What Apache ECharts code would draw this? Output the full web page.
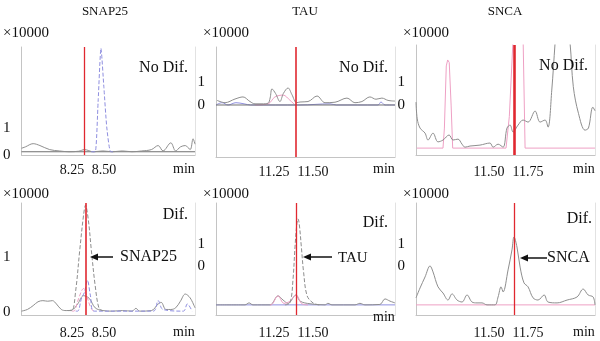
<!DOCTYPE html>
<html><head><meta charset="utf-8">
<script src="https://cdn.jsdelivr.net/npm/echarts@6/dist/echarts.min.js"></script>
<style>html,body{margin:0;padding:0;background:#fff}#c{width:600px;height:341px}</style>
</head><body><div id="c"></div>
<script>
// ---------- labels ----------
const panelTitles = ['SNAP25', 'TAU', 'SNCA'];
const rowNotes = ['No Dif.', 'Dif.'];
const arrowLabels = ['SNAP25', 'TAU', 'SNCA'];
const yUnitLabel = '×10000';
const xUnitLabel = 'min';
const xTicksSnap = [8.25, 8.50];
const xTicksTau = [11.25, 11.50];
const xTicksSnca = [11.50, 11.75];
const yTicks = [0, 1];
// retention-time marker (red line) per panel: A B C / D E F
const markerTimes = [8.348, 11.391, 11.660, 8.356, 11.391, 11.660];

// ---------- Panel A : SNAP25, No Dif. ----------
const snapNoDifTrace = [[7.856,0.25],[7.886,0.3],[7.947,0.42],[8.000,0.35],[8.076,0.2],[8.152,0.15],[8.227,0.12],[8.303,0.14],[8.348,0.2],[8.417,0.12],[8.492,0.15],[8.568,0.12],[8.644,0.15],[8.720,0.12],[8.795,0.15],[8.871,0.2],[8.924,0.35],[8.962,0.15],[9.023,0.45],[9.061,0.15],[9.098,0.3],[9.136,0.35],[9.174,0.2],[9.197,0.6],[9.212,0.4]];
const snapNoDifBase = [[7.856,0.12],[9.212,0.12]];
const snapNoDifPeak = [[8.40,0.12],[8.432,0.12],[8.455,2.0],[8.477,3.95],[8.500,2.5],[8.523,1.0],[8.553,0.12],[8.58,0.12]];

// ---------- Panel B : TAU, No Dif. ----------
const tauNoDifTrace = [[10.885,0.2],[10.936,0.1],[11.0,0.26],[11.051,0.35],[11.096,0.15],[11.128,0.05],[11.173,0.05],[11.212,0.08],[11.225,0.3],[11.237,0.7],[11.26,0.5],[11.288,0.15],[11.31,0.5],[11.34,0.74],[11.365,0.45],[11.395,0.1],[11.417,0.13],[11.468,0.15],[11.526,0.39],[11.577,0.1],[11.641,0.12],[11.718,0.3],[11.769,0.1],[11.814,0.15],[11.865,0.35],[11.904,0.25],[11.942,0.3],[11.981,0.2],[12.026,0.17]];
const tauNoDifPink = [[11.128,0],[11.212,0.05],[11.256,0.35],[11.308,0.43],[11.353,0.2],[11.385,0]];
const tauNoDifBlue = [[10.878,0],[10.917,0.1],[10.955,0],[11.006,0.1],[11.058,0.05],[11.1,0],[11.417,0],[11.609,0.05],[11.65,0],[11.917,0],[11.936,0.13],[11.962,0],[12.026,0]];
const tauNoDifZero = [[10.878,0],[12.026,0]];

// ---------- Panel C : SNCA, No Dif. ----------
const sncaNoDifTrace = [[11.032,0.13],[11.04,-0.6],[11.058,-1.0],[11.090,-1.22],[11.109,-1.52],[11.141,-1.22],[11.173,-1.6],[11.205,-1.52],[11.244,-1.3],[11.269,-1.52],[11.301,-1.48],[11.327,-1.7],[11.346,-1.83],[11.378,-1.78],[11.442,-1.74],[11.506,-1.65],[11.526,-1.83],[11.558,-1.7],[11.590,-1.83],[11.615,-1.0],[11.635,-0.87],[11.654,-1.17],[11.686,-0.87],[11.718,-0.65],[11.750,-0.74],[11.795,-0.26],[11.827,-0.74],[11.859,-0.65],[11.878,-0.96],[11.902,0.65],[11.923,2.68],[11.94,4.2],[11.99,4.2],[12.019,2.7],[12.04,0.8],[12.073,-0.36],[12.115,-1.09],[12.137,-1.0],[12.165,-0.09],[12.179,-0.25]];
const sncaNoDifPink = [[11.038,-1.87],[11.205,-1.87],[11.214,-1.0],[11.226,1.7],[11.235,1.96],[11.245,1.85],[11.257,0],[11.267,-1.87],[11.609,-1.87],[11.63,-0.5],[11.655,3],[11.66,5],[11.71,5],[11.718,3],[11.731,-1.87],[12.179,-1.87]];

// ---------- Panel D : SNAP25, Dif. ----------
const snapDifPeak = [[8.22,0.03],[8.25,0.03],[8.280,0.4],[8.311,1.12],[8.341,1.76],[8.356,1.94],[8.379,1.66],[8.402,1.12],[8.432,0.48],[8.462,0.07],[8.492,0.03]];
const snapDifTrace = [[7.856,0.02],[7.902,0.05],[7.947,0.12],[7.985,0.19],[8.023,0.21],[8.061,0.2],[8.098,0.21],[8.129,0.15],[8.167,0.05],[8.205,0.03],[8.25,0.04],[8.295,0.15],[8.341,0.3],[8.386,0.25],[8.432,0.08],[8.492,0.03],[8.568,0.02],[8.644,0.03],[8.720,0.02],[8.750,0.07],[8.780,0.02],[8.871,0.03],[8.924,0.15],[8.947,0.18],[8.985,0.05],[9.023,0.05],[9.061,0.08],[9.098,0.2],[9.136,0.33],[9.174,0.26],[9.212,0.08]];
const snapDifPink = [[8.25,0.02],[8.265,0.02],[8.295,0.2],[8.326,0.39],[8.341,0.43],[8.364,0.31],[8.394,0.1],[8.417,0.02]];
const snapDifBlue = [[8.28,0.02],[8.295,0.02],[8.326,0.26],[8.348,0.36],[8.371,0.58],[8.394,0.31],[8.424,0.02],[8.886,0.02],[8.924,0.21],[8.962,0.05],[9.121,0.02],[9.152,0.15],[9.189,0.02]];

// ---------- Panel E : TAU, Dif. ----------
const tauDifPeak = [[11.32,-1.77],[11.353,-1.68],[11.372,-0.6],[11.385,0.9],[11.397,1.95],[11.404,2.14],[11.412,1.9],[11.425,0.9],[11.44,-0.3],[11.462,-1.35],[11.5,-1.68],[11.54,-1.77]];
const tauDifTrace = [[10.878,-1.77],[11.064,-1.77],[11.090,-1.68],[11.115,-1.77],[11.224,-1.77],[11.276,-1.36],[11.308,-1.55],[11.340,-1.7],[11.391,-1.32],[11.417,-1.6],[11.481,-1.72],[11.577,-1.77],[11.596,-1.7],[11.622,-1.77],[11.769,-1.77],[11.801,-1.7],[11.833,-1.77],[11.929,-1.75],[11.962,-1.5],[11.994,-1.6],[12.026,-1.68]];
const tauDifPink = [[11.224,-1.77],[11.237,-1.75],[11.276,-1.36],[11.314,-1.7],[11.353,-1.6],[11.391,-1.32],[11.429,-1.72],[11.468,-1.77]];
const tauDifBlue = [[10.878,-1.77],[12.026,-1.77]];

// ---------- Panel F : SNCA, Dif. ----------
const sncaDifTrace = [[11.032,-1.45],[11.058,-1.0],[11.090,-0.5],[11.122,0],[11.141,-0.27],[11.173,-0.95],[11.205,-1.23],[11.237,-1.55],[11.263,-1.27],[11.295,-1.55],[11.327,-1.64],[11.359,-1.32],[11.391,-1.64],[11.423,-1.68],[11.455,-1.68],[11.487,-1.77],[11.538,-1.77],[11.558,-1.41],[11.577,-0.95],[11.590,-1.18],[11.622,-0.18],[11.647,0.73],[11.660,1.32],[11.679,0.86],[11.699,-0.05],[11.724,-0.77],[11.750,-0.95],[11.782,-1.45],[11.814,-1.55],[11.853,-1.32],[11.878,-1.64],[11.936,-1.68],[12.0,-1.55],[12.064,-1.41],[12.103,-1.05],[12.135,-1.32],[12.167,-1.41],[12.179,-1.77]];
const sncaDifPink = [[11.032,-1.77],[12.179,-1.77]];

// ---------- styling ----------
const FONT = '"Liberation Serif", "DejaVu Serif", serif';
const GRAY = '#8e8e8e', DGRAY = '#6f6f6f', BLUE = '#8f8fe0', PINK = '#eea0c4', RED = '#e02830';

function ln(data, color, type, width, smooth, z) {
  return { data, color, type, width: width || 1, smooth: smooth === undefined ? 0.35 : smooth, z: z || 2 };
}

const panels = [
  { grid: [16, 47, 179, 108], x: [7.856, 9.212], y: [0, 4], ticks: xTicksSnap, lm: 8, redW: 1.3,
    lines: [ln(snapNoDifBase, DGRAY, 'solid', 1, 0), ln(snapNoDifTrace, GRAY, 'solid', 1), ln(snapNoDifPeak, BLUE, 'dashed', 1, 0.2)] },
  { grid: [216, 47, 179, 110], x: [10.878, 12.026], y: [-2.26, 2.52], ticks: xTicksTau, lm: 8, redW: 1.6,
    lines: [ln(tauNoDifBlue, BLUE, 'solid', 1), ln(tauNoDifPink, PINK, 'solid', 1), ln(tauNoDifTrace, GRAY, 'solid', 1), ln(tauNoDifZero, DGRAY, 'solid', 1, 0)] },
  { grid: [416, 45, 179, 110], x: [11.032, 12.179], y: [-2.17, 2.61], ticks: xTicksSnca, lm: 10, redW: 2.6,
    lines: [ln(sncaNoDifPink, PINK, 'solid', 1, 0), ln(sncaNoDifTrace, GRAY, 'solid', 1)] },
  { grid: [16, 203, 179, 112], x: [7.856, 9.212], y: [-0.05, 1.98], ticks: xTicksSnap, lm: 11, redW: 1.6,
    lines: [ln(snapDifTrace, GRAY, 'solid', 1), ln(snapDifPink, PINK, 'dashed', 1), ln(snapDifBlue, BLUE, 'dashed', 1), ln(snapDifPeak, GRAY, 'dashed', 1)] },
  { grid: [216, 203, 179, 112], x: [10.878, 12.026], y: [-2.23, 2.86], ticks: xTicksTau, lm: 11, redW: 1.3,
    lines: [ln(tauDifBlue, BLUE, 'solid', 1, 0), ln(tauDifTrace, GRAY, 'solid', 1), ln(tauDifPink, PINK, 'solid', 1), ln(tauDifPeak, GRAY, 'dashed', 1)] },
  { grid: [416, 203, 179, 112], x: [11.032, 12.179], y: [-2.23, 2.86], ticks: xTicksSnca, lm: 11, redW: 1.3,
    lines: [ln(sncaDifPink, PINK, 'solid', 1, 0), ln(sncaDifTrace, GRAY, 'solid', 1)] }
];

const grid = [], xAxis = [], yAxis = [], series = [];
panels.forEach((p, i) => {
  grid.push({ left: p.grid[0], top: p.grid[1], width: p.grid[2], height: p.grid[3], containLabel: false });
  xAxis.push({
    type: 'value', gridIndex: i, min: p.x[0], max: p.x[1],
    axisLine: { show: true, onZero: false, lineStyle: { color: '#c4c4c4', width: 1 } },
    axisTick: { show: false }, splitLine: { show: false },
    axisLabel: { customValues: p.ticks, formatter: v => v.toFixed(2), margin: p.lm,
      color: '#111', fontFamily: FONT, fontSize: 14, hideOverlap: false }
  });
  yAxis.push({
    type: 'value', gridIndex: i, min: p.y[0], max: p.y[1],
    axisLine: { show: true, onZero: false, lineStyle: { color: '#c4c4c4', width: 1 } },
    axisTick: { show: false }, splitLine: { show: false },
    axisLabel: { customValues: yTicks, formatter: v => String(v), margin: 11,
      color: '#111', fontFamily: FONT, fontSize: 15, hideOverlap: false }
  });
});
panels.forEach((p, i) => {
  yAxis.push({
    type: 'value', gridIndex: i, position: 'right', min: p.y[0], max: p.y[1],
    axisLine: { show: true, lineStyle: { color: '#e2e2e2' } },
    axisTick: { show: false }, axisLabel: { show: false }, splitLine: { show: false }
  });
});
panels.forEach((p, i) => {
  p.lines.forEach((l, k) => {
    const s = {
      type: 'line', xAxisIndex: i, yAxisIndex: i, data: l.data, showSymbol: false, symbol: 'none',
      smooth: l.smooth, clip: true, silent: true, z: l.z,
      lineStyle: { color: l.color, width: l.width, type: l.type }
    };
    if (k === 0) {
      s.markLine = {
        silent: true, symbol: ['none', 'none'], label: { show: false }, animation: false,
        lineStyle: { color: RED, width: p.redW, type: 'solid' }, z: 5,
        data: [{ xAxis: markerTimes[i] }]
      };
    }
    series.push(s);
  });
});

function txt(text, x, y, size, align, valign) {
  return { type: 'text', silent: true, z: 100, style: { text, x, y, font: size + 'px ' + FONT, fill: '#111',
    align: align || 'left', verticalAlign: valign || 'middle', textAlign: align || 'left', textVerticalAlign: valign || 'middle' } };
}
function arrow(x1, x2, y) {
  return [
    { type: 'line', silent: true, z: 100, shape: { x1: x1 + 5, y1: y, x2: x2, y2: y }, style: { stroke: '#111', lineWidth: 1.5 } },
    { type: 'polygon', silent: true, z: 100, shape: { points: [[x1, y], [x1 + 8, y - 3.5], [x1 + 8, y + 3.5]] }, style: { fill: '#111' } }
  ];
}

const graphic = [
  txt(panelTitles[0], 105, 12, 13, 'center'), txt(panelTitles[1], 305, 12, 13, 'center'), txt(panelTitles[2], 505, 12, 13, 'center'),
  txt(yUnitLabel, 3, 33, 15), txt(yUnitLabel, 203, 33, 15), txt(yUnitLabel, 403, 33, 15),
  txt(yUnitLabel, 3, 194, 15), txt(yUnitLabel, 203, 194, 15), txt(yUnitLabel, 403, 194, 15),
  txt(rowNotes[0], 188, 68, 16, 'right'), txt(rowNotes[0], 388, 68, 16, 'right'), txt(rowNotes[0], 588, 66, 16, 'right'),
  txt(rowNotes[1], 188, 215, 16, 'right'), txt(rowNotes[1], 388, 223, 16, 'right'), txt(rowNotes[1], 592, 219, 16, 'right'),
  txt(xUnitLabel, 173, 169, 14), txt(xUnitLabel, 373, 169, 14), txt(xUnitLabel, 573, 169, 14),
  txt(xUnitLabel, 173, 332, 14), txt(xUnitLabel, 373, 317, 14), txt(xUnitLabel, 573, 332, 14),
  ...arrow(90, 113, 257), txt(arrowLabels[0], 120, 257, 16),
  ...arrow(303, 332, 257), txt(arrowLabels[1], 338, 258, 15),
  ...arrow(520, 547, 258), txt(arrowLabels[2], 547, 258, 16)
];

const chart = echarts.init(document.getElementById('c'), null, { renderer: 'canvas' });
chart.setOption({ animation: false, backgroundColor: '#fff', grid, xAxis, yAxis, series, graphic });
</script>
</body></html>
